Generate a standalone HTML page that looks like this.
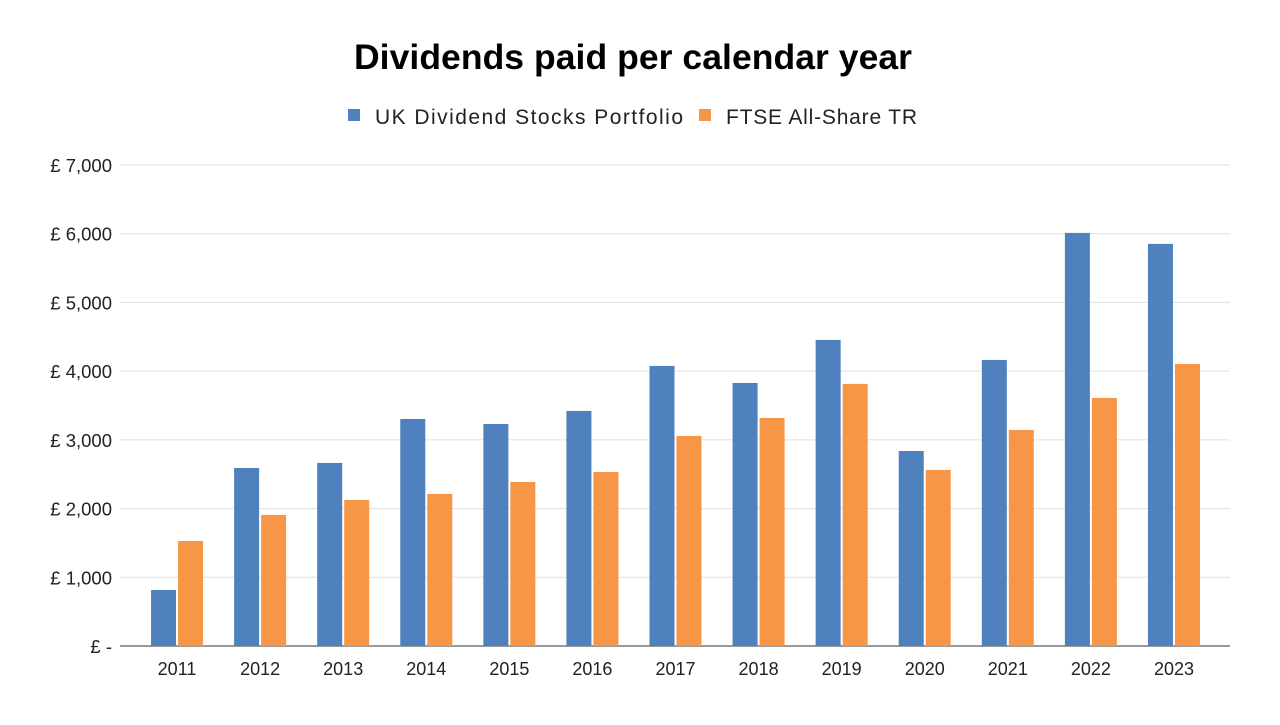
<!DOCTYPE html>
<html><head><meta charset="utf-8"><style>
body{margin:0;background:#fff;width:1280px;height:720px;overflow:hidden;font-family:"Liberation Sans",sans-serif}
</style></head><body>
<svg id="chart" width="1280" height="720">
<text x="633" y="69" text-anchor="middle" font-size="35.5" font-weight="bold" fill="#000" textLength="558">Dividends paid per calendar year</text>
<g>
<rect x="348" y="109" width="12" height="12" fill="#4e81bd"/>
<text x="375" y="124" font-size="21" fill="#222" textLength="308">UK Dividend Stocks Portfolio</text>
<rect x="699" y="109" width="12" height="12" fill="#f79646"/>
<text x="726" y="124" font-size="21" fill="#222" textLength="191">FTSE All-Share TR</text>
</g>
<g id="grid"></g><g id="bars"></g><g id="labels"></g>
</svg>
<script>
const categories=["2011","2012","2013","2014","2015","2016","2017","2018","2019","2020","2021","2022","2023"];
const portfolio=[815,2591,2664,3304,3231,3421,4076,3828,4454,2838,4163,6012,5852];
const ftse=[1528,1907,2125,2213,2387,2533,3057,3319,3814,2562,3144,3610,4105];
const yTicks=[0,1000,2000,3000,4000,5000,6000,7000];
const yTickLabels=["£ -","£ 1,000","£ 2,000","£ 3,000","£ 4,000","£ 5,000","£ 6,000","£ 7,000"];
const NS="http://www.w3.org/2000/svg";
const y0=646,yTop=165,yMax=7000,xL=134.5,xR=1214.5;
const y=v=>y0-(v/yMax)*(y0-yTop);
const bw=(xR-xL)/categories.length;
const xc=i=>xL+bw*(i+0.5);
function mk(t,a,p){const e=document.createElementNS(NS,t);for(const k in a)e.setAttribute(k,a[k]);p.appendChild(e);return e;}
const grid=document.getElementById('grid'),bars=document.getElementById('bars'),labels=document.getElementById('labels');
yTicks.forEach((v,i)=>{
 const l=mk('line',{x1:120,x2:1230,y1:y(v),y2:y(v),stroke:i==0?'#333':'#e0e0e0','stroke-width':1},grid);
 
 
 const t=mk('text',{x:112,y:y(v)+7,'text-anchor':'end','font-size':18.5,fill:'#222'},labels);
 t.textContent=yTickLabels[i];
 
 
});
categories.forEach((c,i)=>{
 const cx=xc(i);
 const b1=mk('rect',{x:cx-25,y:y(portfolio[i]),width:25,height:y0-y(portfolio[i]),fill:'#4e81bd'},bars);
 
 
 const b2=mk('rect',{x:cx+2,y:y(ftse[i]),width:25,height:y0-y(ftse[i]),fill:'#f79646'},bars);
 
 
 const t=mk('text',{x:cx+1,y:675,'text-anchor':'middle','font-size':18,fill:'#222'},labels);
 t.textContent=c;
 
 
});
</script>
</body></html>
